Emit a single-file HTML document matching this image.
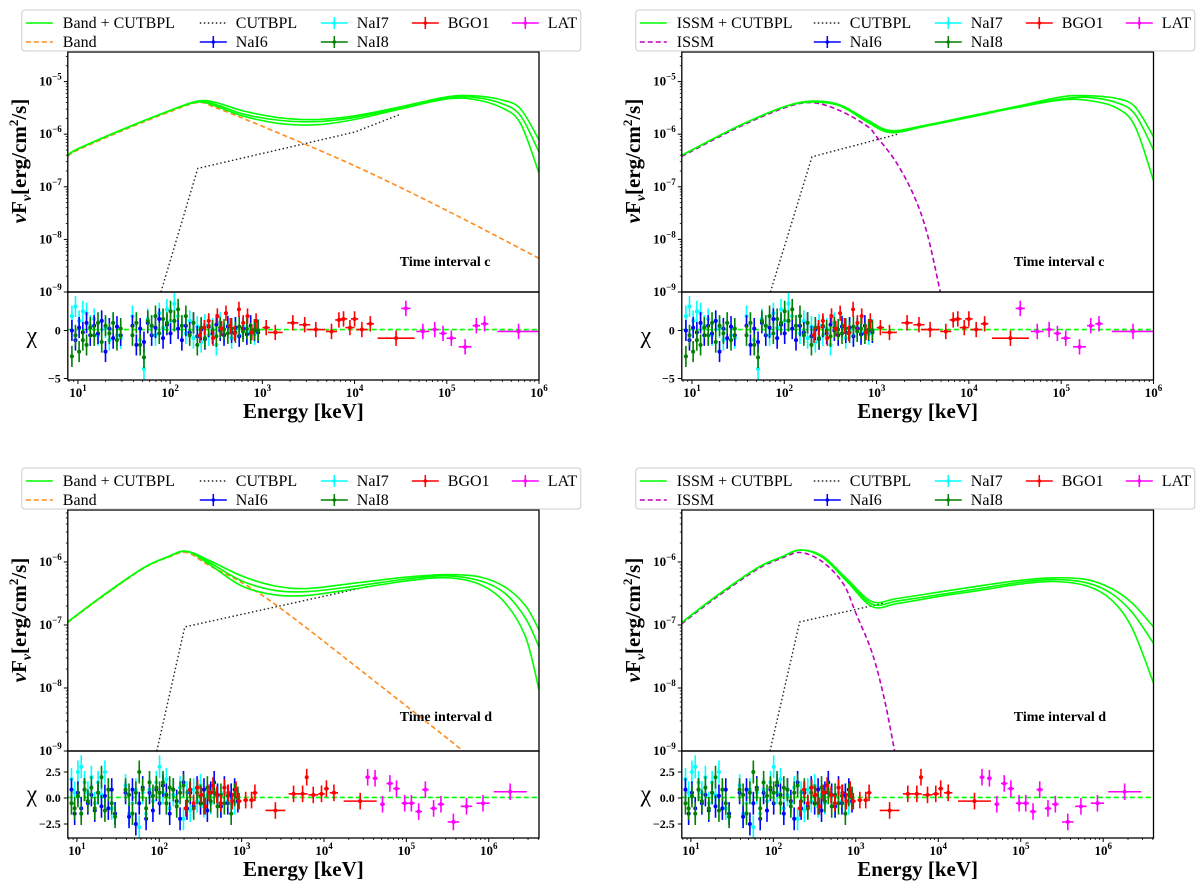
<!DOCTYPE html>
<html><head><meta charset="utf-8"><style>
html,body{margin:0;padding:0;background:#fff}
svg{display:block}
text{font-family:"Liberation Serif",serif;fill:#000}
</style></head><body>
<svg id="fig" width="1200" height="889" viewBox="0 0 1200 889"></svg>
<script>
// ---------- DATA ----------
// model curves: [log10 E(keV), log10 nuFnu]
const tlGreenUp  = [[0.89,-6.40],[1,-6.28],[1.5,-5.90],[2,-5.55],[2.3,-5.37],[2.5,-5.40],[2.8,-5.56],[3.2,-5.69],[3.6,-5.72],[4,-5.65],[4.5,-5.48],[5,-5.29],[5.3,-5.27],[5.6,-5.35],[5.8,-5.52],[6.0,-6.11]];
const tlGreenMid = [[0.89,-6.40],[1,-6.28],[1.5,-5.90],[2,-5.55],[2.3,-5.38],[2.5,-5.44],[2.8,-5.62],[3.2,-5.74],[3.6,-5.76],[4,-5.68],[4.5,-5.50],[5,-5.31],[5.3,-5.30],[5.6,-5.42],[5.8,-5.65],[6.0,-6.34]];
const tlGreenLow = [[0.89,-6.40],[1,-6.28],[1.5,-5.90],[2,-5.55],[2.3,-5.39],[2.5,-5.47],[2.8,-5.66],[3.2,-5.80],[3.6,-5.82],[4,-5.72],[4.5,-5.52],[5,-5.33],[5.3,-5.34],[5.6,-5.50],[5.8,-5.80],[6.0,-6.74]];
const tlComp = [[0.89,-6.42],[1,-6.30],[1.5,-5.92],[2,-5.57],[2.3,-5.40],[2.5,-5.50],[3,-5.85],[4,-6.6],[5,-7.45],[6,-8.36]];
const tlCut = [[1.9,-9],[2.3,-6.65],[4,-5.96],[4.5,-5.62]];

const trGreenUp  = [[0.89,-6.40],[1,-6.30],[1.5,-5.85],[2,-5.48],[2.3,-5.37],[2.6,-5.44],[2.9,-5.73],[3.15,-5.93],[3.5,-5.84],[4,-5.66],[4.5,-5.48],[5,-5.29],[5.3,-5.27],[5.6,-5.32],[5.8,-5.48],[6.0,-6.05]];
const trGreenMid = [[0.89,-6.40],[1,-6.30],[1.5,-5.85],[2,-5.48],[2.3,-5.38],[2.6,-5.45],[2.9,-5.75],[3.15,-5.95],[3.5,-5.85],[4,-5.67],[4.5,-5.49],[5,-5.33],[5.3,-5.30],[5.6,-5.40],[5.8,-5.62],[6.0,-6.30]];
const trGreenLow = [[0.89,-6.40],[1,-6.30],[1.5,-5.85],[2,-5.48],[2.3,-5.39],[2.6,-5.46],[2.9,-5.77],[3.15,-5.97],[3.5,-5.86],[4,-5.68],[4.5,-5.50],[5,-5.35],[5.3,-5.36],[5.6,-5.50],[5.8,-5.85],[6.0,-6.88]];
const trComp = [[0.89,-6.42],[1,-6.32],[1.5,-5.87],[2,-5.50],[2.3,-5.40],[2.6,-5.55],[2.9,-5.85],[3.0,-6.05],[3.2,-6.5],[3.4,-7.15],[3.55,-7.9],[3.69,-9]];
const trCut = [[1.85,-9],[2.3,-6.43],[3.25,-5.99]];

const blGreenUp  = [[0.89,-6.95],[1.3,-6.55],[1.8,-6.1],[2.1,-5.92],[2.33,-5.83],[2.6,-5.97],[3,-6.22],[3.4,-6.38],[3.8,-6.42],[4.4,-6.33],[5,-6.24],[5.5,-6.20],[5.9,-6.24],[6.2,-6.4],[6.45,-6.7],[6.61,-7.08]];
const blGreenMid = [[0.89,-6.95],[1.3,-6.55],[1.8,-6.1],[2.1,-5.92],[2.33,-5.83],[2.6,-6.0],[3,-6.3],[3.4,-6.45],[3.8,-6.47],[4.4,-6.38],[5,-6.27],[5.5,-6.22],[5.9,-6.30],[6.2,-6.5],[6.45,-6.9],[6.61,-7.35]];
const blGreenLow = [[0.89,-6.95],[1.3,-6.55],[1.8,-6.1],[2.1,-5.92],[2.33,-5.83],[2.6,-6.03],[3,-6.38],[3.4,-6.52],[3.8,-6.53],[4.4,-6.42],[5,-6.30],[5.5,-6.25],[5.9,-6.36],[6.2,-6.65],[6.45,-7.2],[6.61,-8.03]];
const blComp = [[0.89,-6.96],[1.3,-6.56],[1.8,-6.11],[2.1,-5.93],[2.33,-5.85],[2.6,-6.05],[3.33,-6.6],[4.72,-8.0],[5.69,-9]];
const blCut = [[1.97,-9],[2.31,-7.03],[4.53,-6.39]];

const brGreenUp  = [[0.89,-6.96],[1.3,-6.55],[1.8,-6.1],[2.1,-5.92],[2.33,-5.81],[2.6,-5.91],[2.9,-6.28],[3.2,-6.63],[3.5,-6.58],[4,-6.48],[4.5,-6.38],[5,-6.29],[5.4,-6.25],[5.8,-6.28],[6.1,-6.42],[6.35,-6.65],[6.61,-7.03]];
const brGreenMid = [[0.89,-6.96],[1.3,-6.55],[1.8,-6.1],[2.1,-5.92],[2.33,-5.81],[2.6,-5.92],[2.9,-6.3],[3.2,-6.67],[3.5,-6.62],[4,-6.52],[4.5,-6.42],[5,-6.32],[5.4,-6.28],[5.8,-6.33],[6.1,-6.5],[6.35,-6.8],[6.61,-7.29]];
const brGreenLow = [[0.89,-6.96],[1.3,-6.55],[1.8,-6.1],[2.1,-5.92],[2.33,-5.81],[2.6,-5.93],[2.9,-6.32],[3.2,-6.71],[3.5,-6.66],[4,-6.55],[4.5,-6.45],[5,-6.35],[5.4,-6.31],[5.8,-6.38],[6.1,-6.6],[6.35,-7.05],[6.61,-7.92]];
const brComp = [[0.89,-6.98],[1.3,-6.57],[1.8,-6.12],[2.1,-5.94],[2.33,-5.85],[2.6,-6.0],[2.85,-6.35],[3.0,-6.81],[3.2,-7.45],[3.35,-8.2],[3.47,-9]];
const brCut = [[1.96,-9],[2.32,-6.95],[3.35,-6.65]];

// residual data (chi); energies in keV
const naiE = [8.6,9.4,10.3,11.3,12.4,13.6,15,16.5,18.1,19.9,21.9,24.1,26.5,29.1,39,43,47.3,52,57.2,63,69.3,76.2,83.8,92.2,101,111,122,134,148,163,179,197,217,238,262,288,317,349,384,422,464,510,561,617,679,747,822,900];
const nai6C = [0,-1,0.3,-0.2,0.8,-0.5,0.5,-0.3,1,-2.2,0.2,-0.8,0.4,-0.5,0.5,-1.5,0.2,-1.2,0.8,-0.5,0.3,1.2,-0.8,0.6,-0.3,1.0,0.2,-1.0,0.5,-0.2,0.8,-0.6,0.1,-0.9,0.4,-0.3,0.6,0.0,-0.5,0.4,-0.2,0.3,-0.6,0.2,-0.4,0.5,0.0,-0.2];
const nai7C = [1.5,2.5,1.0,2.0,1.8,0.5,1.2,-0.5,1.0,0.3,-1.0,0.8,-0.5,-0.8,1.5,0.8,-1.0,-4.0,1.2,0.5,-0.5,1.8,0.3,2.2,1.0,2.8,1.5,0.5,-0.3,1.0,-0.8,0.4,-1.2,0.6,-0.5,0.2,-1.5,0.8,-0.3,0.5,-0.8,0.2,-0.5,0.4,-0.2,0.0,-0.4,0.1];
const nai8C = [-2.7,-0.5,-2.2,-1.0,-1.5,0.3,-0.5,0.8,-1.2,0.5,-0.3,0.8,-1.0,0.2,-0.5,0.8,-1.5,-2.8,1.0,0.5,1.5,-0.3,1.2,0.8,2.0,1.0,2.2,0.5,1.5,-0.5,0.8,-1.5,0.3,-0.8,0.5,0.0,-0.6,0.3,0.1,-0.3,0.2,-0.2,0.4,-0.1,0.2,-0.3,0.1,0.0];
const nai6D = [0.8,-1.5,0.5,-1.0,0.8,-0.5,0.3,-1.2,0.5,-0.8,0.2,-1.0,0.8,-1.5,0.5,-1.8,0.8,-2.5,-0.5,1.0,-2.0,0.5,-1.2,0.8,-0.5,1.2,0.3,-1.5,0.8,-0.3,-2.0,1.5,-1.0,0.5,-0.8,1.0,-0.5,0.8,-1.2,0.5,1.5,0.3,-0.8,1.0,-0.5,0.3,0.8,-0.3];
const nai7D = [1.8,0.5,2.5,3.0,1.5,0.5,2.0,-0.5,1.5,0.3,2.5,0.8,-1.0,-1.5,1.2,-1.5,-0.5,0.8,-2.8,0.5,-1.5,0.8,-0.3,1.5,3.0,0.5,1.8,-1.0,0.3,-0.5,1.0,-2.0,0.5,-1.2,0.8,-0.3,1.2,-0.8,0.3,-0.5,0.8,0.2,-0.8,0.5,-0.3,0.3,-0.5,0.0];
const nai8D = [-0.5,-1.0,0.2,-1.5,0.8,-0.3,1.0,-1.0,0.5,2.0,-1.2,0.8,-0.5,-1.8,0.8,0.3,-1.5,0.5,2.5,0.8,-1.0,1.5,0.2,1.0,0.5,1.5,-0.5,1.0,0.8,-0.8,0.5,1.2,-0.3,0.8,-1.0,0.5,0.2,-0.5,1.0,-0.3,0.5,-0.8,0.3,-0.5,0.2,-1.5,0.3,0.0];
const bgoLoE = [210,235,262,292,325,362,403,449,500,557,620,690,768,855];
const bgoLoC = [-0.5,0.3,1.0,-0.8,1.5,0.2,1.8,0.5,-0.3,2.2,0.8,1.5,-0.2,1.0];
const bgoLoD = [-1.0,0.8,-0.5,1.0,0.3,-0.8,0.5,1.2,0.3,-0.5,1.0,0.5,-0.3,0.8];
const bgoHiEC = [1100,1380,2140,2880,3800,5620,6760,7590,8910,10000,12000,14800,28200];
const bgoHiC  = [0.3,-0.2,0.8,0.6,0.1,-0.1,1.1,1.2,0.3,1.2,0.1,0.7,-0.8];
const bgoHiWC = [0.04,0.08,0.06,0.06,0.1,0.06,0.04,0.04,0.05,0.04,0.06,0.04,0.2];
const latEC = [36000,55000,74000,91000,112000,158000,209000,257000,600000];
const latC  = [2.3,-0.1,0.1,-0.3,-0.8,-1.7,0.5,0.7,-0.1];
const latWC = [0.05,0.07,0.04,0.04,0.05,0.07,0.04,0.04,0.23];
const bgoHiED = [933,1120,1320,1450,2570,4270,5500,6170,7410,9330,10700,13200,27500];
const bgoHiD  = [-0.3,-0.2,-0.2,0.5,-1.2,0.4,0.4,2.0,0.3,0.4,0.9,0.5,-0.3];
const bgoHiWD = [0.03,0.03,0.03,0.03,0.12,0.06,0.06,0.02,0.06,0.04,0.03,0.05,0.2];
const latED = [33900,41700,51300,63100,75900,95500,115000,141000,170000,214000,263000,372000,537000,851000,1820000];
const latD  = [2.0,1.9,-0.6,1.4,0.9,-0.5,-0.5,-1.3,0.8,-1.0,-0.6,-2.3,-0.8,-0.5,0.6];
const latWD = [0.03,0.03,0.03,0.04,0.04,0.04,0.04,0.04,0.04,0.04,0.04,0.07,0.07,0.08,0.2];

// ---------- DRAWING ----------
const NS='http://www.w3.org/2000/svg';
const svg=document.getElementById('fig');
function mk(tag,attrs,parent){const e=document.createElementNS(NS,tag);for(const k in attrs)e.setAttribute(k,attrs[k]);(parent||svg).appendChild(e);return e;}
const COL={nai6:'#0000ff',nai7:'#00ffff',nai8:'#007f00',bgo:'#ff0000',lat:'#ff00ff',green:'#00ff00',band:'#ff8c1a',issm:'#bf00bf'};

function smoothPath(pts){
  let d='M'+pts[0][0].toFixed(1)+','+pts[0][1].toFixed(1);
  for(let i=0;i<pts.length-1;i++){
    const p0=pts[Math.max(0,i-1)],p1=pts[i],p2=pts[i+1],p3=pts[Math.min(pts.length-1,i+2)];
    const c1=[p1[0]+(p2[0]-p0[0])/6,p1[1]+(p2[1]-p0[1])/6];
    const c2=[p2[0]-(p3[0]-p1[0])/6,p2[1]-(p3[1]-p1[1])/6];
    d+=' C'+c1[0].toFixed(1)+','+c1[1].toFixed(1)+' '+c2[0].toFixed(1)+','+c2[1].toFixed(1)+' '+p2[0].toFixed(1)+','+p2[1].toFixed(1);
  }
  return d;
}
function linePath(pts){return 'M'+pts.map(p=>p[0].toFixed(1)+','+p[1].toFixed(1)).join(' L');}

function panel(cfg){
  const g=mk('g',{});
  
  
  const X=l=>cfg.x0+(l-cfg.lmin)/(cfg.lmax-cfg.lmin)*(cfg.x1-cfg.x0);
  const Ym=lf=>cfg.mBot-(lf+9)*cfg.dec;
  const Yr=c=>cfg.r0-c*cfg.rs;
  const cid='clip'+cfg.id, rid='rclip'+cfg.id;
  const cp=mk('clipPath',{id:cid},g); mk('rect',{x:cfg.x0,y:cfg.mTop,width:cfg.x1-cfg.x0,height:cfg.mBot-cfg.mTop},cp);
  const rp=mk('clipPath',{id:rid},g); mk('rect',{x:cfg.x0,y:cfg.mBot,width:cfg.x1-cfg.x0,height:cfg.rBot-cfg.mBot},rp);

  // curves
  const cg=mk('g',{'clip-path':'url(#'+cid+')'},g);
  const curve=(arr,attrs,name,lin)=>{const P=arr.map(q=>[X(q[0]),Ym(q[1])]);
    const p=mk('path',Object.assign({d:lin?linePath(P):smoothPath(P),fill:'none'},attrs),cg);
    return p;};
  curve(cfg.cut,{stroke:'#222','stroke-width':1.4,'stroke-dasharray':'1.5,2.5'},'cutbpl-curve',true);
  curve(cfg.comp,{stroke:cfg.compCol,'stroke-width':1.6,'stroke-dasharray':'5,3'},cfg.compName+'-curve');
  [cfg.gU,cfg.gM,cfg.gL].forEach((a,i)=>curve(a,{stroke:COL.green,'stroke-width':1.6},'total-model-curve-'+(i+1)));

  // residuals
  const rg=mk('g',{'clip-path':'url(#'+rid+')'},g);
  const zl=mk('line',{x1:cfg.x0,x2:cfg.x1,y1:Yr(cfg.zero),y2:Yr(cfg.zero),stroke:COL.green,'stroke-width':1.6,'stroke-dasharray':'5,3'},rg);
  
  const pts=(E,C,W,col,ey,name,dot)=>{
    const n=Math.min(E.length,C.length);
    for(let i=0;i<n;i++){
      const l=Math.log10(E[i]); const w=W?W[i]:0.02;
      const xc=X(l), yc=Yr(C[i]);
      const pg=mk('g',{stroke:col,'stroke-width':1.6},rg);
      
      
      mk('line',{x1:X(l-w),x2:X(l+w),y1:yc,y2:yc},pg);
      mk('line',{x1:xc,x2:xc,y1:Yr(C[i]+ey),y2:Yr(C[i]-ey)},pg);
      if(dot) mk('circle',{cx:xc,cy:yc,r:2,fill:col,stroke:'none'},pg);
    }
  };
  pts(naiE,cfg.n7,null,COL.nai7,1.1,'nai7-point',true);
  pts(naiE,cfg.n6,null,COL.nai6,1.1,'nai6-point',true);
  pts(naiE,cfg.n8,null,COL.nai8,1.1,'nai8-point',true);
  pts(bgoLoE,cfg.bLo,null,COL.bgo,0.8,'bgo1-point',true);
  pts(cfg.bE,cfg.bC,cfg.bW,COL.bgo,0.8,'bgo1-point',true);
  pts(cfg.lE,cfg.lC,cfg.lW,COL.lat,0.8,'lat-point',true);

  // frames
  mk('rect',{x:cfg.x0,y:cfg.mTop,width:cfg.x1-cfg.x0,height:cfg.mBot-cfg.mTop,fill:'none',stroke:'#000','stroke-width':1.3},g);
  mk('rect',{x:cfg.x0,y:cfg.mBot,width:cfg.x1-cfg.x0,height:cfg.rBot-cfg.mBot,fill:'none',stroke:'#000','stroke-width':1.3},g);

  // y ticks main
  for(let d=-9;d<=-4;d++){
    const y=Ym(d);
    if(y>=cfg.mTop-0.5 && y<=cfg.mBot+0.5){
      mk('line',{x1:cfg.x0-4,x2:cfg.x0,y1:y,y2:y,stroke:'#000','stroke-width':1},g);
      const t=mk('text',{x:cfg.x0-6,y:y+4,'text-anchor':'end','font-size':13,'font-weight':'bold'},g);
      
      t.innerHTML='10<tspan dy="-6" font-size="9">−'+(-d)+'</tspan>';
    }
    for(let m=2;m<10;m++){const yy=Ym(d+Math.log10(m)); if(yy>cfg.mTop&&yy<cfg.mBot) mk('line',{x1:cfg.x0-2,x2:cfg.x0,y1:yy,y2:yy,stroke:'#000','stroke-width':0.8},g);}
  }
  // chi ticks
  cfg.chiT.forEach((c,i)=>{const y=Yr(c);
    mk('line',{x1:cfg.x0-4,x2:cfg.x0,y1:y,y2:y,stroke:'#000','stroke-width':1},g);
    const t=mk('text',{x:cfg.x0-7,y:y+4,'text-anchor':'end','font-size':12,'font-weight':'bold'},g);
    
    t.textContent=cfg.chiL[i];});
  // x ticks
  for(let d=0;d<=7;d++){
    for(let m=1;m<10;m++){const l=d+Math.log10(m); const x=X(l);
      if(x<cfg.x0-0.5||x>cfg.x1+0.5) continue;
      mk('line',{x1:x,x2:x,y1:cfg.rBot,y2:cfg.rBot+(m===1?4:2),stroke:'#000','stroke-width':m===1?1:0.8},g);
      if(m===1){const t=mk('text',{x:x,y:cfg.rBot+17,'text-anchor':'middle','font-size':13,'font-weight':'bold'},g);
        
        t.innerHTML='10<tspan dy="-6" font-size="9">'+d+'</tspan>';}
    }
  }
  // labels
  const yl=mk('text',{x:0,y:0,'font-size':21,'font-weight':'bold','text-anchor':'middle',transform:'translate('+(cfg.x0-42)+','+cfg.ylY+') rotate(-90)'},g);
  
  yl.innerHTML='<tspan font-style="italic">ν</tspan>F<tspan dy="5" font-size="14" font-style="italic">ν</tspan><tspan dy="-5">[erg/cm</tspan><tspan dy="-8" font-size="13">2</tspan><tspan dy="8">/s]</tspan>';
  const cl=mk('text',{x:cfg.x0-36,y:(cfg.mBot+cfg.rBot)/2+7,'font-size':24,'text-anchor':'middle'},g);
  
  cl.textContent='χ';
  const xl=mk('text',{x:(cfg.x0+cfg.x1)/2,y:cfg.rBot+38,'font-size':21,'font-weight':'bold','text-anchor':'middle'},g);
  
  xl.textContent='Energy [keV]';
  const ti=mk('text',{x:cfg.x0+332,y:cfg.tiY,'font-size':14,'font-weight':'bold'},g);
  
  ti.textContent=cfg.ti;

  // legend
  const lx=cfg.x0-46, ly=cfg.legY;
  const lg=mk('g',{},g);
  
  mk('rect',{x:lx,y:ly,width:559,height:41,rx:3,fill:'#fff',stroke:'#ccc','stroke-width':1},lg);
  const entry=(col,row,label,draw)=>{
    const colx=[4,178,299,390,490][col], tx=[41,214,335,426,526][col];
    const y=ly+13+row*19;
    const eg=mk('g',{},lg);
    
    draw(eg,lx+colx,y);
    const t=mk('text',{x:lx+tx,y:y+5,'font-size':16},eg);t.textContent=label;
  };
  const ln=(attrs)=>(eg,x,y)=>mk('line',Object.assign({x1:x,x2:x+27,y1:y,y2:y},attrs),eg);
  const eb=(col)=>(eg,x,y)=>{mk('line',{x1:x,x2:x+27,y1:y,y2:y,stroke:col,'stroke-width':1.5},eg);mk('line',{x1:x+13.5,x2:x+13.5,y1:y-6,y2:y+6,stroke:col,'stroke-width':1.5},eg);mk('circle',{cx:x+13.5,cy:y,r:1.8,fill:col},eg);};
  entry(0,0,cfg.totLabel,ln({stroke:COL.green,'stroke-width':1.6}));
  entry(0,1,cfg.compName,ln({stroke:cfg.compCol,'stroke-width':1.6,'stroke-dasharray':'5,3'}));
  entry(1,0,'CUTBPL',ln({stroke:'#222','stroke-width':1.4,'stroke-dasharray':'1.5,2.5'}));
  entry(1,1,'NaI6',eb(COL.nai6));
  entry(2,0,'NaI7',eb(COL.nai7));
  entry(2,1,'NaI8',eb(COL.nai8));
  entry(3,0,'BGO1',eb(COL.bgo));
  entry(4,0,'LAT',eb(COL.lat));
}

const topBase={x1:539,lmin:0.89,lmax:6.0,mTop:52,mBot:292,dec:52.6,r0:330.5,rs:9.6,rBot:380,chiT:[-5,0],chiL:['−5','0'],zero:0.1,ylY:161,tiY:266,legY:10,ti:'Time interval c',
  n6:nai6C,n7:nai7C,n8:nai8C,bLo:bgoLoC,bE:bgoHiEC,bC:bgoHiC,bW:bgoHiWC,lE:latEC,lC:latC,lW:latWC};
const botBase={x1:539,lmin:0.89,lmax:6.61,mTop:510,mBot:751,dec:63,r0:798,rs:10.4,rBot:838,chiT:[2.5,0,-2.5],chiL:['2.5','0.0','−2.5'],zero:0.05,ylY:620,tiY:721,legY:468,ti:'Time interval d',
  n6:nai6D,n7:nai7D,n8:nai8D,bLo:bgoLoD,bE:bgoHiED,bC:bgoHiD,bW:bgoHiWD,lE:latED,lC:latD,lW:latWD};

panel(Object.assign({},topBase,{id:'tl',name:'panel-band-c',x0:67.8,gU:tlGreenUp,gM:tlGreenMid,gL:tlGreenLow,comp:tlComp,cut:tlCut,compCol:COL.band,compName:'Band',totLabel:'Band + CUTBPL'}));
panel(Object.assign({},topBase,{id:'tr',name:'panel-issm-c',x0:681.8,x1:1153.5,gU:trGreenUp,gM:trGreenMid,gL:trGreenLow,comp:trComp,cut:trCut,compCol:COL.issm,compName:'ISSM',totLabel:'ISSM + CUTBPL'}));
panel(Object.assign({},botBase,{id:'bl',name:'panel-band-d',x0:67.8,gU:blGreenUp,gM:blGreenMid,gL:blGreenLow,comp:blComp,cut:blCut,compCol:COL.band,compName:'Band',totLabel:'Band + CUTBPL'}));
panel(Object.assign({},botBase,{id:'br',name:'panel-issm-d',x0:681.8,x1:1153.5,gU:brGreenUp,gM:brGreenMid,gL:brGreenLow,comp:brComp,cut:brCut,compCol:COL.issm,compName:'ISSM',totLabel:'ISSM + CUTBPL'}));
</script>
</body></html>
